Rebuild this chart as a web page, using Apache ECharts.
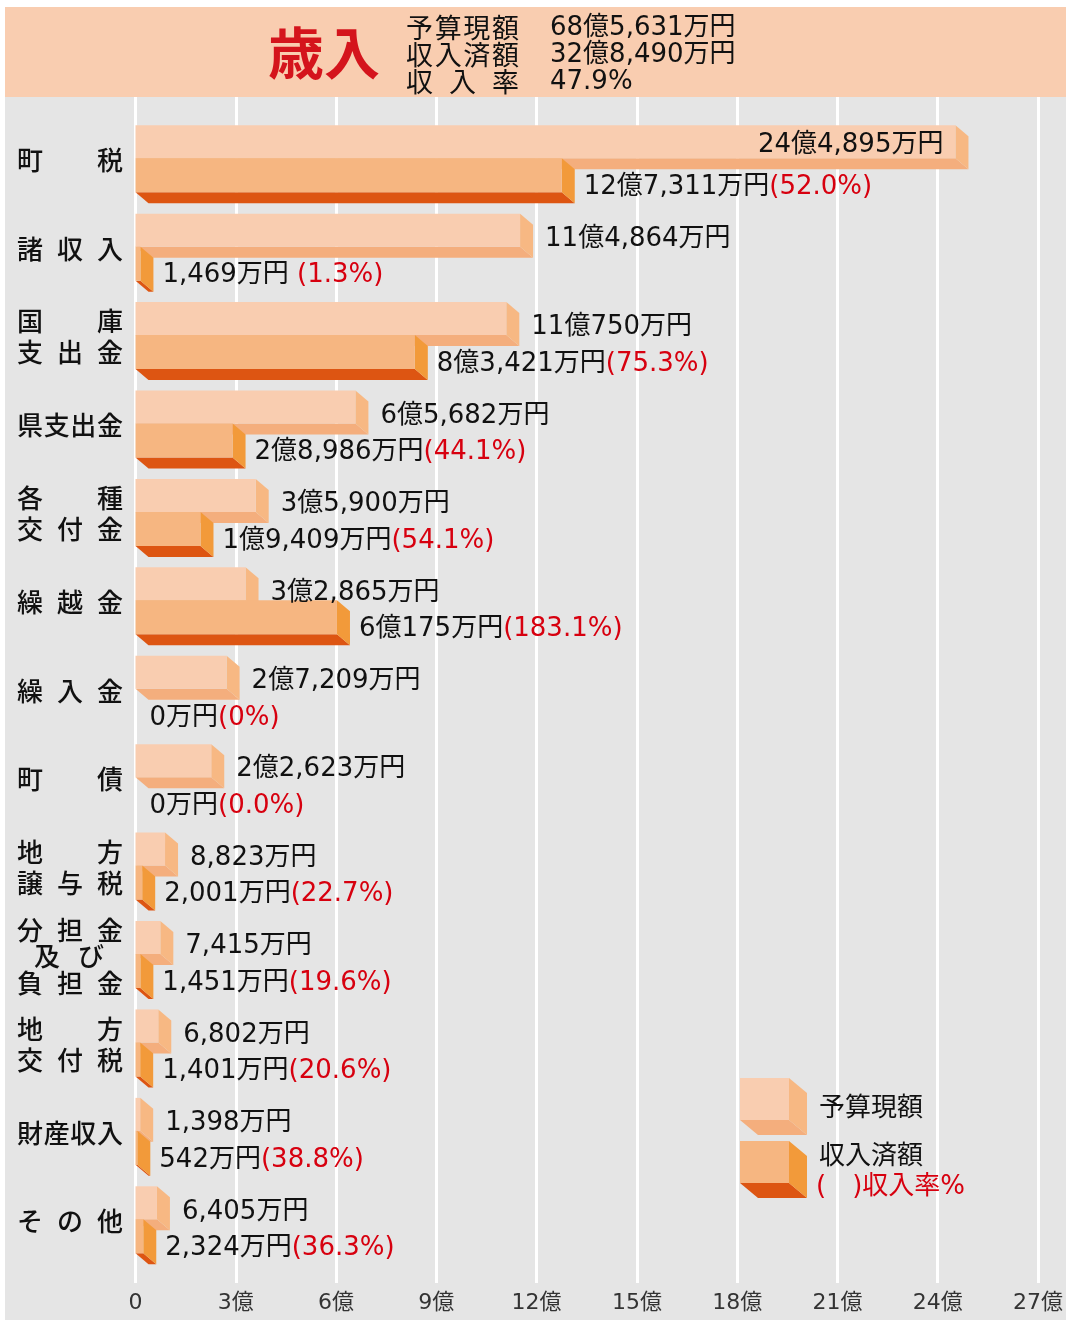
<!DOCTYPE html>
<html><head><meta charset="utf-8">
<script src="https://cdn.jsdelivr.net/npm/echarts@6/dist/echarts.min.js"></script>
<style>html,body{margin:0;padding:0;background:#fff}#c{width:1066px;height:1320px}</style>
</head><body><div id="c"></div>
<script>
// ---- data ----
const categoryLabels = ['町税','諸収入','国庫\n支出金','県支出金','各種\n交付金','繰越金','繰入金','町債','地方\n譲与税','分担金\n及び\n負担金','地方\n交付税','財産収入','その他'];
const budgetMan = [244895,114864,110750,65682,35900,32865,27209,22623,8823,7415,6802,1398,6405];
const actualMan = [127311,1469,83421,28986,19409,60175,0,0,2001,1451,1401,542,2324];
const rateText = ['(52.0%)',' (1.3%)','(75.3%)','(44.1%)','(54.1%)','(183.1%)','(0%)','(0.0%)','(22.7%)','(19.6%)','(20.6%)','(38.8%)','(36.3%)'];
const axisMaxOku = 27;
const axisStepOku = 3;
const headerTitle = '歳入';
const headerLabels = ['予算現額','収入済額','収入率'];
const headerValues = ['68億5,631万円','32億8,490万円','47.9%'];
const legendLabels = ['予算現額','収入済額','(　)収入率%'];

// ---- styles ----
const FONT = "'DejaVu Sans','Noto Sans CJK JP',sans-serif";
const CJK = "'Noto Sans CJK JP',sans-serif";
const CJK_MED = "'Noto Sans CJK JP Medium','Noto Sans CJK JP',sans-serif";
const BUDGET_COLS = ['#f9cdb0','#f7b883','#f4ae7d'];
const ACTUAL_COLS = ['#f6b681','#f29a3a','#dd5512'];
const RED = '#d7000f';
const W = 1066;
const DX = 13, DY = 11;

function fmtMan(v){
  const oku = Math.floor(v/10000), man = v % 10000;
  const manStr = man.toLocaleString('en-US');
  if (oku > 0) return oku + '億' + (man > 0 ? manStr : '') + '万円';
  return manStr + '万円';
}

function box(x0, x1, yt, yb, cols, dx, dy){
  const els = [];
  if (x1 - x0 <= 0) return els;
  els.push({type:'polygon', shape:{points:[[x0,yb],[x1,yb],[x1+dx,yb+dy],[x0+dx,yb+dy]]}, style:{fill:cols[2]}});
  els.push({type:'polygon', shape:{points:[[x1,yt],[x1+dx,yt+dy],[x1+dx,yb+dy],[x1,yb]]}, style:{fill:cols[1]}});
  els.push({type:'rect', shape:{x:x0, y:yt, width:x1-x0, height:yb-yt}, style:{fill:cols[0]}});
  return els;
}

function justified(line, left, right, cy, size, family, fill){
  const chars = Array.from(line);
  const n = chars.length;
  const els = [];
  for (let i = 0; i < n; i++){
    const cx = n === 1 ? left + size/2 : left + size/2 + i * (right - left - size) / (n - 1);
    els.push({type:'text', x:cx, y:cy, style:{text:chars[i], fill:fill, font:size + 'px ' + family, align:'center', verticalAlign:'middle', textAlign:'center', textVerticalAlign:'middle'}});
  }
  return els;
}

const seriesData = categoryLabels.map((c,i) => [budgetMan[i]/10000, actualMan[i]/10000, i]);

function renderItem(params, api){
  const idx = api.value(2);
  const p0 = api.coord([0, idx]);
  const x0 = p0[0], cy = p0[1];
  const xb = api.coord([api.value(0), idx])[0];
  const xa = api.coord([api.value(1), idx])[0];
  const bTop = cy - 38, mid = cy - 5, aBot = cy + 29;
  const children = [];
  box(x0, xb, bTop, mid, BUDGET_COLS, DX, DY).forEach(e => children.push(e));
  box(x0, xa, mid, aBot, ACTUAL_COLS, DX, DY).forEach(e => children.push(e));
  // budget label
  const bText = fmtMan(budgetMan[idx]);
  const inside = xb + DX + 12 + 200 > W;
  children.push({type:'text', x: inside ? xb - 12 : xb + DX + 12, y: inside ? (bTop+mid)/2 + 4 : (bTop+mid)/2 + 9,
    style:{text:bText, fill:'#111', font:'26px ' + FONT, align: inside ? 'right':'left', verticalAlign:'middle', textAlign: inside?'right':'left', textVerticalAlign:'middle'}});
  // actual label
  const ax = actualMan[idx] > 0 ? xa + DX + 9 : x0 + 14;
  children.push({type:'text', x: ax, y: (mid+aBot)/2 + 12,
    style:{text:'{a|' + fmtMan(actualMan[idx]) + '}{r|' + rateText[idx] + '}', align:'left', verticalAlign:'middle', textAlign:'left', textVerticalAlign:'middle',
      rich:{a:{fill:'#111', fontSize:26, fontFamily:FONT}, r:{fill:RED, fontSize:26, fontFamily:FONT}}}});
  // category label
  const lines = categoryLabels[idx].split('\n');
  const lc = cy - 3;
  let offsets;
  if (lines.length === 1) offsets = [0];
  else if (lines.length === 2) offsets = [-15.5, 15.5];
  else offsets = [-26, 0, 27];
  lines.forEach((ln, k) => {
    let l = 17, r = 123;
    if (lines.length === 3 && k === 1) { l = 34; r = 104; }
    justified(ln, l, r, lc + offsets[k], 26, CJK_MED, '#111').forEach(e => children.push(e));
  });
  return {type:'group', children};
}

// ---- graphic (background, header, legend) ----
const graphics = [];
graphics.push({type:'rect', z:-100, shape:{x:5, y:97, width:W-5, height:1320-97}, style:{fill:'#e5e5e5'}});
graphics.push({type:'rect', z:-100, shape:{x:5, y:7, width:W-5, height:90}, style:{fill:'#f9cdb0'}});
graphics.push({type:'text', z:100, x:324, y:53, style:{text:headerTitle, fill:'#d4141c', font:'bold 56px ' + CJK, align:'center', verticalAlign:'middle', textAlign:'center', textVerticalAlign:'middle'}});
const hy = [28, 55, 82];
headerLabels.forEach((t,k) => {
  justified(t, 406, 519, hy[k], 27, CJK, '#111').forEach(e => { e.z = 100; graphics.push(e); });
  graphics.push({type:'text', z:100, x:550, y:hy[k], style:{text:headerValues[k], fill:'#111', font:'26px ' + FONT, align:'left', verticalAlign:'middle', textAlign:'left', textVerticalAlign:'middle'}});
});
// legend boxes
[[BUDGET_COLS, 1078, 1120], [ACTUAL_COLS, 1141, 1183]].forEach(([cols, yt, yb]) => {
  box(740, 789, yt, yb, cols, 18, 15).forEach(e => { e.z = 100; graphics.push(e); });
});
graphics.push({type:'text', z:100, x:819, y:1109, style:{text:legendLabels[0], fill:'#111', font:'26px ' + FONT, align:'left', verticalAlign:'middle', textAlign:'left', textVerticalAlign:'middle'}});
graphics.push({type:'text', z:100, x:819, y:1157, style:{text:legendLabels[1], fill:'#111', font:'26px ' + FONT, align:'left', verticalAlign:'middle', textAlign:'left', textVerticalAlign:'middle'}});
graphics.push({type:'text', z:100, x:816, y:1187, style:{text:legendLabels[2], fill:RED, font:'26px ' + FONT, align:'left', verticalAlign:'middle', textAlign:'left', textVerticalAlign:'middle'}});

const chart = echarts.init(document.getElementById('c'), null, {renderer:'canvas'});
chart.setOption({
  backgroundColor:'#fff',
  animation:false,
  graphic: graphics,
  grid:[
    {left:135.5, right:W-1039.5, top:97, bottom:37},
    {left:135.5, right:W-1039.5, top:119, height:1149.5}
  ],
  xAxis:[
    {gridIndex:0, type:'value', min:0, max:axisMaxOku, interval:axisStepOku,
      axisLine:{show:false}, axisTick:{show:false},
      splitLine:{show:true, lineStyle:{color:'#ffffff', width:3}},
      axisLabel:{color:'#333', fontSize:22, fontFamily:FONT, margin:9, formatter: v => v === 0 ? '0' : v + '億'}},
    {gridIndex:1, type:'value', min:0, max:axisMaxOku, show:false}
  ],
  yAxis:[
    {gridIndex:0, type:'value', show:false},
    {gridIndex:1, type:'category', data:categoryLabels, inverse:true, show:false}
  ],
  series:[{
    type:'custom', xAxisIndex:1, yAxisIndex:1, clip:false,
    encode:{x:[0,1], y:2},
    renderItem: renderItem,
    data: seriesData
  }]
});
</script></body></html>
